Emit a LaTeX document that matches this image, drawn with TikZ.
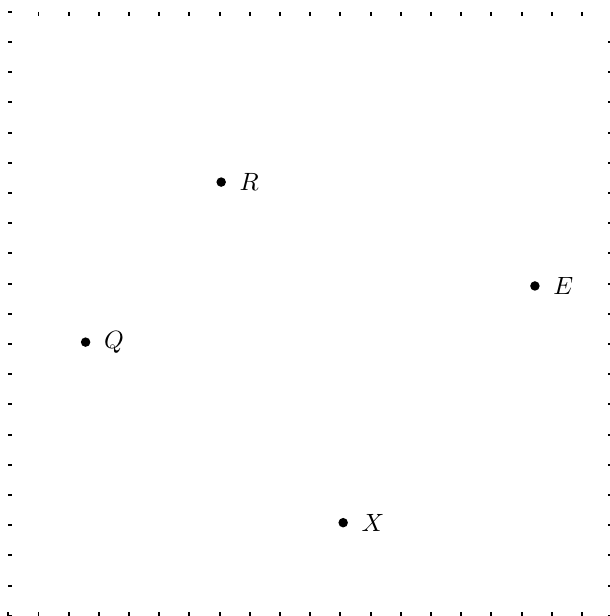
\documentclass[tikz,border=0pt]{standalone}
\usepackage{tikz}
\usetikzlibrary{positioning}
\tikzset{
	pointdot/.style={circle, fill=black, inner sep=0pt, minimum size=3.8pt}
}
\tikzset{
	framemark/.style={line width=0.8pt}
}
\tikzset{
	pointlabel/.style={label distance=1.8pt}
}

\begin{document}
\begin{tikzpicture}[x=0.425cm, y=0.425cm]
      \useasboundingbox (-0.275,-0.01) rectangle (19.92,20.39);
      % marks round the frame
      \foreach \k in {0,...,20}
        \draw[framemark] (0,\k) -- ++(0.13,0);
      \foreach \k in {0,...,19}
        \draw[framemark] (20,\k) -- ++(-0.13,0);
      \foreach \k in {0,...,19}
        \draw[framemark] (\k,0) -- ++(0,0.13);
      \foreach \k in {1,...,19}
        \draw[framemark] (\k,20) -- ++(0,-0.13);
      % the points
      \node[pointdot, label={[pointlabel]right:$R$}] (R) at (7.05,14.36) {};
      \node[pointdot, label={[pointlabel]right:$Q$}] (Q) at (2.56,9.06) {};
      \node[pointdot, label={[pointlabel]right:$E$}] (E) at (17.44,10.92) {};
      \node[pointdot, label={[pointlabel]right:$X$}] (X) at (11.09,3.08) {};
    \end{tikzpicture}
\end{document}
